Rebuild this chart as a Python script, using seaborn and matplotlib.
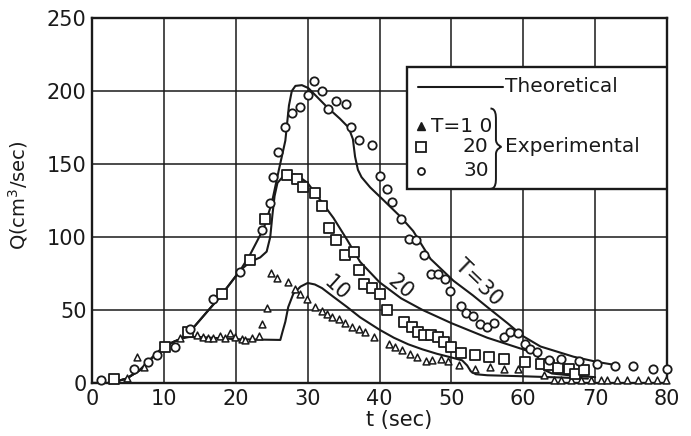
import numpy as np
import pandas as pd
import matplotlib
matplotlib.use("Agg")
import matplotlib.pyplot as plt
from matplotlib.path import Path
from matplotlib.patches import PathPatch, Rectangle
import seaborn as sns

# ---------------- data ----------------
# Theoretical hydrographs (t in sec, Q in cm^3/sec)
t_theory_10 = [0, 2.5, 4.8, 6.7, 8.5, 10, 11.5, 12.5, 13.5, 15, 20, 26.2, 26.5, 26.9, 27.3, 28, 29, 30,
               31, 32, 33.6, 35.5, 37.3, 40, 42, 44, 46, 48, 50, 51.5, 52.2, 52.7, 53.4, 55, 60, 65, 69]
q_theory_10 = [0, 0, 3, 9, 18, 25, 28.5, 30.5, 31.5, 31.5, 30, 29.5, 35, 42, 52, 61, 66, 68.5,
               67.5, 65, 59, 52, 45, 36.5, 31, 26.5, 23, 20, 17.5, 15.5, 12, 8, 6, 5.3, 4.6, 3.8, 3]

t_theory_20 = [0, 2.5, 4.8, 6.7, 8.5, 10, 11.5, 12.5, 13.6, 15, 17.8, 20.6, 22, 23.4, 24.3, 24.8, 25.1,
               25.4, 25.8, 26.5, 27.5, 28.5, 30, 31.8, 33.6, 35.5, 37.3, 40, 43, 46, 50, 55, 60, 61.8,
               62.3, 62.9, 64, 67, 70]
q_theory_20 = [0, 0, 3, 9, 18, 25, 28.5, 30.5, 35, 43, 59, 77, 83, 86, 90, 100, 115,
               128, 137, 141, 143, 142.5, 137, 125, 113, 98, 83, 69, 58, 50, 41, 31, 23, 20,
               15, 9, 6.5, 5, 4]

t_theory_30 = [0, 2.5, 4.8, 6.7, 8.5, 10, 11.5, 12.5, 13.6, 15, 17.8, 20.6, 22, 23.9, 25, 26, 26.9,
               27.4, 27.8, 28.3, 29.2, 30.1, 31.3, 32.7, 34.5, 35.7, 36.3, 36.6, 37, 37.5, 38.7, 40.6,
               42.9, 44.7, 45.7, 47.1, 50.3, 53, 55, 57.8, 60, 62.4, 67, 70.3, 72.6]
q_theory_30 = [0, 0, 3, 9, 18, 25, 28.5, 30.5, 35, 43, 59, 77, 88, 106, 123, 146, 166,
               190, 200, 203.5, 204, 202, 196, 189, 181, 175, 167, 155, 146, 141, 134, 125,
               114, 104, 96, 85, 70, 60, 52, 41, 32, 25, 18, 14.4, 12.5]

# Experimental points
t_exp_10 = [4.8, 6.2, 7.2, 12.3, 14.6, 15.5, 16.2, 16.9, 17.8, 18.5, 19.2, 19.9, 20.8, 21.3, 22.2, 23.2,
            23.6, 24.3, 24.9, 25.7, 27.3, 28.3, 29.0, 29.9, 31.0, 32.0, 32.7, 33.4, 34.3, 35.2, 36.2,
            37.1, 38.0, 39.2, 41.3, 42.2, 43.1, 44.3, 45.2, 46.4, 47.3, 48.5, 49.5, 51.0, 53.3, 55.4,
            57.3, 59.2, 62.9, 64.3, 65.2, 66.6, 68.0, 69.4, 70.8, 71.7, 73.0, 74.5, 75.9, 77.3, 78.6, 79.8]
q_exp_10 = [3.5, 17.5, 11, 31, 33, 31.5, 31, 31, 32, 31, 34, 31.5, 30, 29.5, 31, 32.5,
            40.7, 51.7, 75.5, 72, 69.3, 64.7, 61.3, 57.2, 52, 49, 47.6, 45.5, 44, 41, 38.4,
            37.3, 35, 31.5, 27, 24.7, 22.4, 20, 17.8, 15, 16, 16.7, 15, 12.5, 9.8, 11,
            9.8, 9.8, 5.3, 2, 2, 2, 2, 2, 2, 2, 2, 2, 2, 2, 2, 2]

t_exp_20 = [3.0, 10.2, 13.4, 18.1, 22.0, 24.1, 27.1, 28.5, 29.4, 31.0, 32.0, 33.0, 34.0, 35.2, 36.4,
            37.1, 37.9, 38.9, 40.0, 41.0, 43.4, 44.5, 45.3, 46.2, 47.1, 48.2, 49.0, 50.0, 51.3, 53.3,
            55.2, 57.3, 60.2, 62.4, 63.6, 64.8, 66.3, 67.2, 68.4]
q_exp_20 = [3, 24.7, 35, 61, 84, 112, 142.5, 140, 134.5, 130, 121, 106, 98, 87.6, 89.8,
            77.3, 67.5, 65, 61.3, 50, 41.8, 38.4, 35, 32.7, 32.7, 31.5, 28, 24.7, 20.6, 19,
            17.8, 16.2, 14.4, 13.3, 12, 10, 9.8, 6.5, 8.7]

t_exp_30 = [1.3, 5.9, 7.8, 9.0, 11.6, 13.6, 16.9, 20.6, 23.6, 24.8, 25.2, 25.9, 26.9, 27.8, 29.0, 30.0,
            30.9, 32.0, 32.9, 34.0, 35.3, 36.1, 37.1, 38.9, 40.0, 41.1, 41.8, 43.0, 44.1, 45.1, 46.2,
            47.2, 48.1, 49.1, 49.8, 51.4, 52.1, 53.0, 54.0, 55.0, 55.9, 57.3, 58.2, 59.2, 60.2, 61.0,
            61.9, 63.6, 65.2, 67.7, 70.3, 72.8, 75.3, 78.1, 80.0]
q_exp_30 = [2, 9.5, 14.4, 19.3, 25, 37, 57.5, 76, 105, 123, 141.3, 158.4, 175, 185, 189.3, 197,
            207, 200, 188, 193, 191, 175, 166.5, 163, 141.5, 132.6, 124, 112, 98.4, 97.9, 87.5,
            74.5, 74.5, 71.3, 63, 53, 47.8, 45.7, 40.5, 38.6, 41, 31.8, 34.8, 34, 27, 23.6,
            21.3, 16, 16.7, 14.9, 13.3, 11.5, 11.5, 9.8, 9.8]

x_ticks = [0, 10, 20, 30, 40, 50, 60, 70, 80]
y_ticks = [0, 50, 100, 150, 200, 250]

# ---------------- style ----------------
sns.set_style("white")
plt.rcParams["font.family"] = ["DejaVu Sans"]

INK = "#1a1a1a"
fig = plt.figure(figsize=(6.91, 4.36), dpi=100)
ax = fig.add_axes([92 / 691, 1 - 383 / 436, 575 / 691, 365 / 436])

for t, q in [(t_theory_10, q_theory_10), (t_theory_20, q_theory_20), (t_theory_30, q_theory_30)]:
    sns.lineplot(x=t, y=q, sort=False, estimator=None, color=INK, lw=1.5, ax=ax, zorder=3)

sns.scatterplot(x=t_exp_10, y=q_exp_10, marker="^", s=24, facecolor="white", edgecolor=INK,
                linewidth=1.1, ax=ax, zorder=4, clip_on=False)
sns.scatterplot(x=t_exp_20, y=q_exp_20, marker="s", s=50, facecolor="white", edgecolor=INK,
                linewidth=1.3, ax=ax, zorder=4, clip_on=False)
sns.scatterplot(x=t_exp_30, y=q_exp_30, marker="o", s=36, facecolor="white", edgecolor=INK,
                linewidth=1.3, ax=ax, zorder=4, clip_on=False)

ax.set_xlim(0, 80)
ax.set_ylim(0, 250)
ax.set_xticks(x_ticks)
ax.set_yticks(y_ticks)
ax.set_xticklabels([str(v) for v in x_ticks], fontsize=15)
ax.set_yticklabels([str(v) for v in y_ticks], fontsize=15)
ax.tick_params(length=0, pad=4, colors=INK)
ax.grid(True, color=INK, lw=1.1)
ax.set_axisbelow(True)
for s in ax.spines.values():
    s.set_visible(True)
    s.set_color(INK)
    s.set_linewidth(1.7)

ax.set_xlabel("t (sec)", fontsize=15, color=INK)
ax.xaxis.set_label_coords(0.534, -0.075)
ax.set_ylabel("Q(cm$^3$/sec)", fontsize=14, color=INK)
ax.yaxis.set_label_coords(-0.108, 0.515)

# curve labels
ax.text(34.0, 65, "10", fontsize=15, rotation=-42, ha="center", va="center", color=INK, zorder=5)
ax.text(42.9, 66, "20", fontsize=15, rotation=-40, ha="center", va="center", color=INK, zorder=5)
ax.text(53.8, 69, "T=30", fontsize=15, rotation=-44, ha="center", va="center", color=INK, zorder=5)

# legend box (axes coordinates)
tr = ax.transAxes
ax.add_patch(Rectangle((0.547, 0.531), 0.453, 0.336, transform=tr, facecolor="white",
                       edgecolor=INK, lw=1.7, zorder=6))
ax.plot([0.567, 0.715], [0.810, 0.810], transform=tr, color=INK, lw=1.5, zorder=7)
ax.text(0.718, 0.811, "Theoretical", transform=tr, fontsize=14.5, ha="left", va="center", color=INK, zorder=7)
ax.plot([0.573], [0.704], transform=tr, marker="^", ms=5.5, color=INK, zorder=7)
ax.plot([0.573], [0.647], transform=tr, marker="s", ms=6.5, mfc="white", mec=INK, mew=1.3, zorder=7)
ax.plot([0.573], [0.580], transform=tr, marker="o", ms=5, mfc="white", mec=INK, mew=1.3, zorder=7)
ax.text(0.590, 0.704, "T=1 0", transform=tr, fontsize=14.5, ha="left", va="center", color=INK, zorder=7)
ax.text(0.690, 0.647, "20", transform=tr, fontsize=14.5, ha="right", va="center", color=INK, zorder=7)
ax.text(0.690, 0.582, "30", transform=tr, fontsize=14.5, ha="right", va="center", color=INK, zorder=7)

# curly brace
x0, x1 = 0.693, 0.712
ytop, ymid, ybot = 0.752, 0.647, 0.532
xm = (x0 + x1) / 2
verts = [(x0, ytop), (xm, ytop), (xm, ytop - 0.02), (xm, ytop - 0.03),
         (xm, ymid + 0.02),
         (xm, ymid + 0.005), (x1, ymid), (x1, ymid),
         (x1, ymid), (xm, ymid - 0.005), (xm, ymid - 0.02),
         (xm, ybot + 0.03),
         (xm, ybot + 0.02), (xm, ybot), (x0, ybot)]
codes = [Path.MOVETO, Path.CURVE4, Path.CURVE4, Path.CURVE4,
         Path.LINETO,
         Path.CURVE4, Path.CURVE4, Path.CURVE4,
         Path.CURVE4, Path.CURVE4, Path.CURVE4,
         Path.LINETO,
         Path.CURVE4, Path.CURVE4, Path.CURVE4]
ax.add_patch(PathPatch(Path(verts, codes), transform=tr, facecolor="none", edgecolor=INK,
                       lw=1.4, zorder=7))
ax.text(0.718, 0.647, "Experimental", transform=tr, fontsize=14.5, ha="left", va="center", color=INK, zorder=7)

fig.savefig("out.png", dpi=100)
